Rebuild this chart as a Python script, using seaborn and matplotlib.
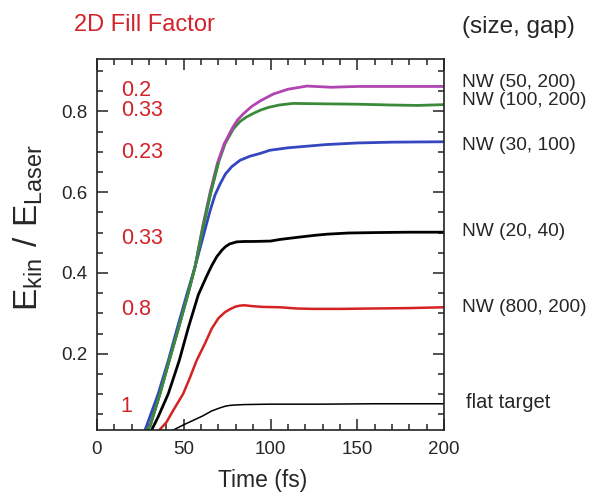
import numpy as np
import pandas as pd
import matplotlib as mpl
mpl.use("Agg")
import matplotlib.pyplot as plt
import seaborn as sns

# Curve data (time in fs, E_kin / E_Laser)
t_nw50 = [25, 30.5, 36.3, 41.6, 47, 52.3, 56.5, 61.0, 65.1, 69.4, 73.3, 78.3, 81, 84.3, 89, 94, 101.5, 110, 121, 135, 150, 165, 180, 200]
e_nw50 = [0.0, 0.02, 0.101, 0.183, 0.264, 0.346, 0.415, 0.517, 0.598, 0.672, 0.720, 0.761, 0.779, 0.794, 0.812, 0.826, 0.843, 0.855, 0.863, 0.860, 0.862, 0.862, 0.862, 0.862]

t_nw100 = [26, 30.5, 36.3, 41.6, 47, 52.3, 56.5, 61.3, 65.5, 69.9, 73.8, 78.6, 82.4, 86, 90, 94, 98.7, 105, 113, 130, 150, 170, 185, 200]
e_nw100 = [0.0, 0.02, 0.101, 0.183, 0.264, 0.346, 0.415, 0.517, 0.598, 0.672, 0.720, 0.757, 0.775, 0.786, 0.795, 0.803, 0.810, 0.816, 0.820, 0.819, 0.818, 0.816, 0.815, 0.817]

t_nw30 = [25, 27.7, 30.5, 35.3, 41.1, 46.3, 51.7, 56.5, 61.3, 65.1, 68, 70.9, 74, 77.6, 82.4, 88, 94, 99.7, 110, 132, 150, 170, 200]
e_nw30 = [0.0, 0.011, 0.044, 0.101, 0.183, 0.264, 0.346, 0.415, 0.492, 0.553, 0.593, 0.620, 0.645, 0.663, 0.679, 0.689, 0.696, 0.704, 0.710, 0.718, 0.722, 0.724, 0.725]

t_nw20 = [28, 31.5, 35.3, 41.1, 47.4, 52.6, 58.4, 63.2, 66.1, 69, 71.9, 74, 76.5, 80.5, 85, 90, 100, 105.5, 115, 125, 132.4, 145, 160, 180, 200]
e_nw20 = [0.0, 0.011, 0.044, 0.101, 0.183, 0.264, 0.346, 0.392, 0.418, 0.440, 0.456, 0.465, 0.472, 0.477, 0.478, 0.478, 0.479, 0.483, 0.488, 0.493, 0.496, 0.499, 0.500, 0.501, 0.501]

t_nw800 = [33, 36, 40, 44, 49.7, 53.5, 57.4, 62.2, 66.1, 70, 73.8, 77, 80, 82.4, 85, 89, 95, 105.5, 115, 124.5, 140, 160, 180, 200]
e_nw800 = [0.0, 0.011, 0.03, 0.060, 0.101, 0.14, 0.183, 0.225, 0.262, 0.288, 0.303, 0.311, 0.317, 0.319, 0.320, 0.318, 0.316, 0.315, 0.312, 0.311, 0.311, 0.312, 0.313, 0.315]

t_flat = [38, 44, 50, 55, 61, 66, 71, 74, 76.7, 80, 85, 100, 130, 160, 200]
e_flat = [0.0, 0.011, 0.024, 0.034, 0.046, 0.058, 0.066, 0.070, 0.072, 0.073, 0.074, 0.075, 0.075, 0.076, 0.076]

curve_names = ["NW (50, 200)", "NW (100, 200)", "NW (30, 100)", "NW (20, 40)", "NW (800, 200)", "flat target"]
curve_label_y = [0.873, 0.826, 0.716, 0.502, 0.315, 0.079]
fill_factors = ["0.2", "0.33", "0.23", "0.33", "0.8", "1"]
fill_label_y = [0.851, 0.802, 0.698, 0.486, 0.309, 0.068]

sns.set_theme(style="ticks")
plt.rcParams['font.family'] = ['Liberation Sans', 'DejaVu Sans']
plt.rcParams['mathtext.fontset'] = 'custom'
plt.rcParams['mathtext.rm'] = 'Liberation Sans'

red_txt = "#d2232a"
fig = plt.figure(figsize=(5.89, 4.93), dpi=100)
ax = fig.add_axes([97 / 589, 1 - 430 / 493, 347 / 589, 371 / 493])

curves = [
    (t_nw100, e_nw100, "#3a8a3a", 2.0),
    (t_nw50, e_nw50, "#b044b0", 2.0),
    (t_nw30, e_nw30, "#3447bf", 2.0),
    (t_nw20, e_nw20, "black", 2.0),
    (t_nw800, e_nw800, "#d42222", 1.8),
    (t_flat, e_flat, "black", 1.1),
]
for t, e, c, lw in curves:
    sns.lineplot(x=t, y=e, color=c, lw=lw, estimator=None, sort=False, ax=ax)

# the green curve sits over the magenta one on the lower part of the rise
sns.lineplot(x=t_nw100[:10], y=e_nw100[:10], color="#3a8a3a", lw=2.0, estimator=None, sort=False, ax=ax)

ax.set_xlim(0, 200)
ax.set_ylim(0.011, 0.93)
ax.set_xticks([0, 50, 100, 150, 200])
ax.set_yticks([0.2, 0.4, 0.6, 0.8])
ax.set_xticks(np.arange(0, 201, 10), minor=True)
ax.set_yticks(np.arange(0.05, 0.93, 0.05), minor=True)
ax.tick_params(which="both", direction="in", top=True, right=True, width=1.1, color="#222222")
ax.tick_params(which="major", length=8, labelsize=13.5)
ax.tick_params(axis="y", which="major", pad=7)
ax.tick_params(axis="x", which="major", pad=8)
ax.tick_params(which="minor", length=4.5)
for s in ax.spines.values():
    s.set_linewidth(1.2)
    s.set_color("#222222")

ax.set_xlabel("Time (fs)", fontsize=16.5)
ax.xaxis.set_label_coords(0.478, -0.105)
ax.set_ylabel(r"$\mathregular{E_{kin}\ /\ E_{Laser}}$", fontsize=24)
ax.yaxis.set_label_coords(-0.15, 0.545)

for name, yv in zip(curve_names, curve_label_y):
    if name == "flat target":
        ax.text(212.7, yv, name, ha="left", va="center", fontsize=14.5, clip_on=False)
    else:
        ax.text(210.5, yv, name, ha="left", va="center", fontsize=13.8, clip_on=False)

for ff, yv in zip(fill_factors, fill_label_y):
    ax.text(13.7, yv, ff, ha="left", va="center", fontsize=15.5, color=red_txt)

fig.text(74 / 589, 1 - 25 / 493, "2D Fill Factor", ha="left", va="center", fontsize=17, color=red_txt)
fig.text(462 / 589, 1 - 27 / 493, "(size, gap)", ha="left", va="center", fontsize=17.5)

plt.savefig("out.png", dpi=100)
